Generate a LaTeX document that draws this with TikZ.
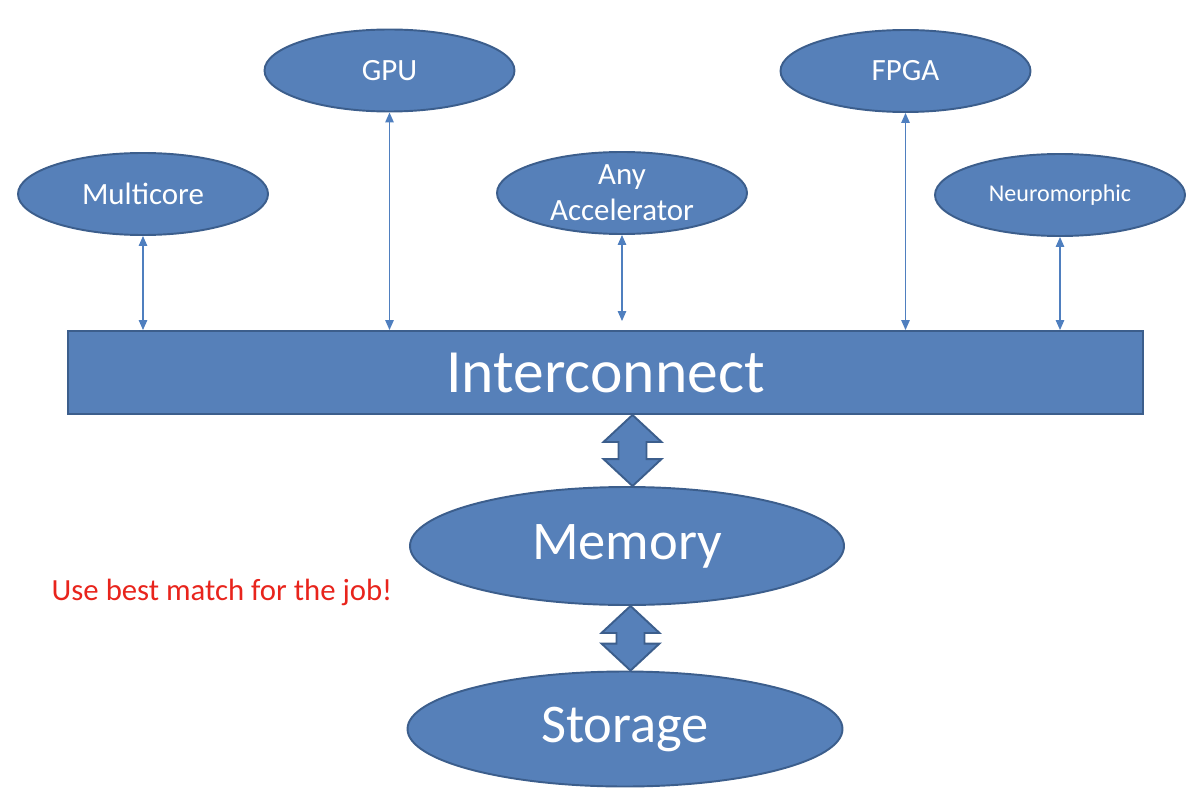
\documentclass[tikz,border=0pt]{standalone}
\usepackage{fontspec}
\setmainfont{Carlito}
\usepackage{tikz}
\usetikzlibrary{shapes.geometric}
\usetikzlibrary{arrows.meta, positioning}

\definecolor{unitfill}{HTML}{5680B9}
\definecolor{unitedge}{HTML}{3C5E8C}
\definecolor{linkblue}{HTML}{4F7FBF}
\definecolor{noteRed}{HTML}{E8241C}

% fat double arrow between two points on one vertical line
\newcommand\fatarrow[2]{%
  \draw[fat] let \p1=(#1), \p2=(#2) in
    (\x1,\y1) -- (\x1+0.58cm,\y1-0.54cm) -- (\x1+0.28cm,\y1-0.54cm)
    -- (\x1+0.28cm,\y2+0.54cm) -- (\x1+0.58cm,\y2+0.54cm) -- (\x1,\y2)
    -- (\x1-0.58cm,\y2+0.54cm) -- (\x1-0.28cm,\y2+0.54cm)
    -- (\x1-0.28cm,\y1-0.54cm) -- (\x1-0.58cm,\y1-0.54cm) -- cycle;}

\usetikzlibrary{calc}

\begin{document}
\begin{tikzpicture}[
        unit/.style={ellipse, draw=unitedge, fill=unitfill, line width=1.1pt, inner sep=0pt, minimum width=5cm, minimum height=1.64cm, align=center, text=white, font=\fontsize{17.6}{20.5}\selectfont},
        store/.style={unit, minimum width=8.7cm, minimum height=2.3cm, font=\fontsize{31}{36}\selectfont},
        link/.style={{Triangle[width=0.17cm,length=0.2cm]}-{Triangle[width=0.17cm,length=0.2cm]}, draw=linkblue, line width=0.75pt},
        fat/.style={draw=unitedge, fill=unitfill, line width=1.1pt, line join=miter}
    ]
        \useasboundingbox (0,0) rectangle (23.88,-16.2);

        % Interconnect bar
        \node[rectangle, draw=unitedge, fill=unitfill, line width=1.1pt, minimum width=21.5cm, minimum height=1.66cm, text=white, font=\fontsize{35}{40}\selectfont] (ic) at (12.11,-7.45) {\raisebox{-0.05cm}{Interconnect}};

        % Processing units
        \node[unit] (mc) at (2.86,-3.88) {Multicore};
        \node[unit] (gpu) at (7.79,-1.41) {GPU};
        \node[unit] (acc) at (12.44,-3.86) {Any\\Accelerator};
        \node[unit] (fpga) at (18.11,-1.42) {FPGA};
        \node[unit, font=\fontsize{13.7}{16}\selectfont] (neuro) at (21.2,-3.9) {Neuromorphic};

        % Memory and storage
        \node[store, minimum width=8.68cm, minimum height=2.36cm] (mem) at (12.54,-10.92) {\raisebox{-0.04cm}{Memory}};
        \node[store] (sto) at (12.5,-14.58) {\raisebox{-0.1cm}{Storage}};

        % Note
        \node[text=noteRed, font=\fontsize{17.5}{20}\selectfont] (note) at (4.44,-11.85) {Use best match for the job!};

        % Links to the interconnect
        \draw[link] (mc.south) -- (mc.south |- ic.north);
        \draw[link] (gpu.south) -- (gpu.south |- ic.north);
        \draw[link, shorten >=0.18cm] (acc.south) -- (acc.south |- ic.north);
        \draw[link] (fpga.south) -- (fpga.south |- ic.north);
        \draw[link] (neuro.south) -- (neuro.south |- ic.north);

        % Fat arrows
        \coordinate (t1) at ($(ic.south -| mem.north)+(0.11,0)$);
        \coordinate (b1) at ($(mem.north)+(0.11,0)$);
        \fatarrow{t1}{b1}
        \coordinate (t2) at ($(mem.south)+(0.07,0)$);
        \coordinate (b2) at ($(sto.north)+(0.12,0)$);
        \fatarrow{t2}{b2}

    \end{tikzpicture}
\end{document}
